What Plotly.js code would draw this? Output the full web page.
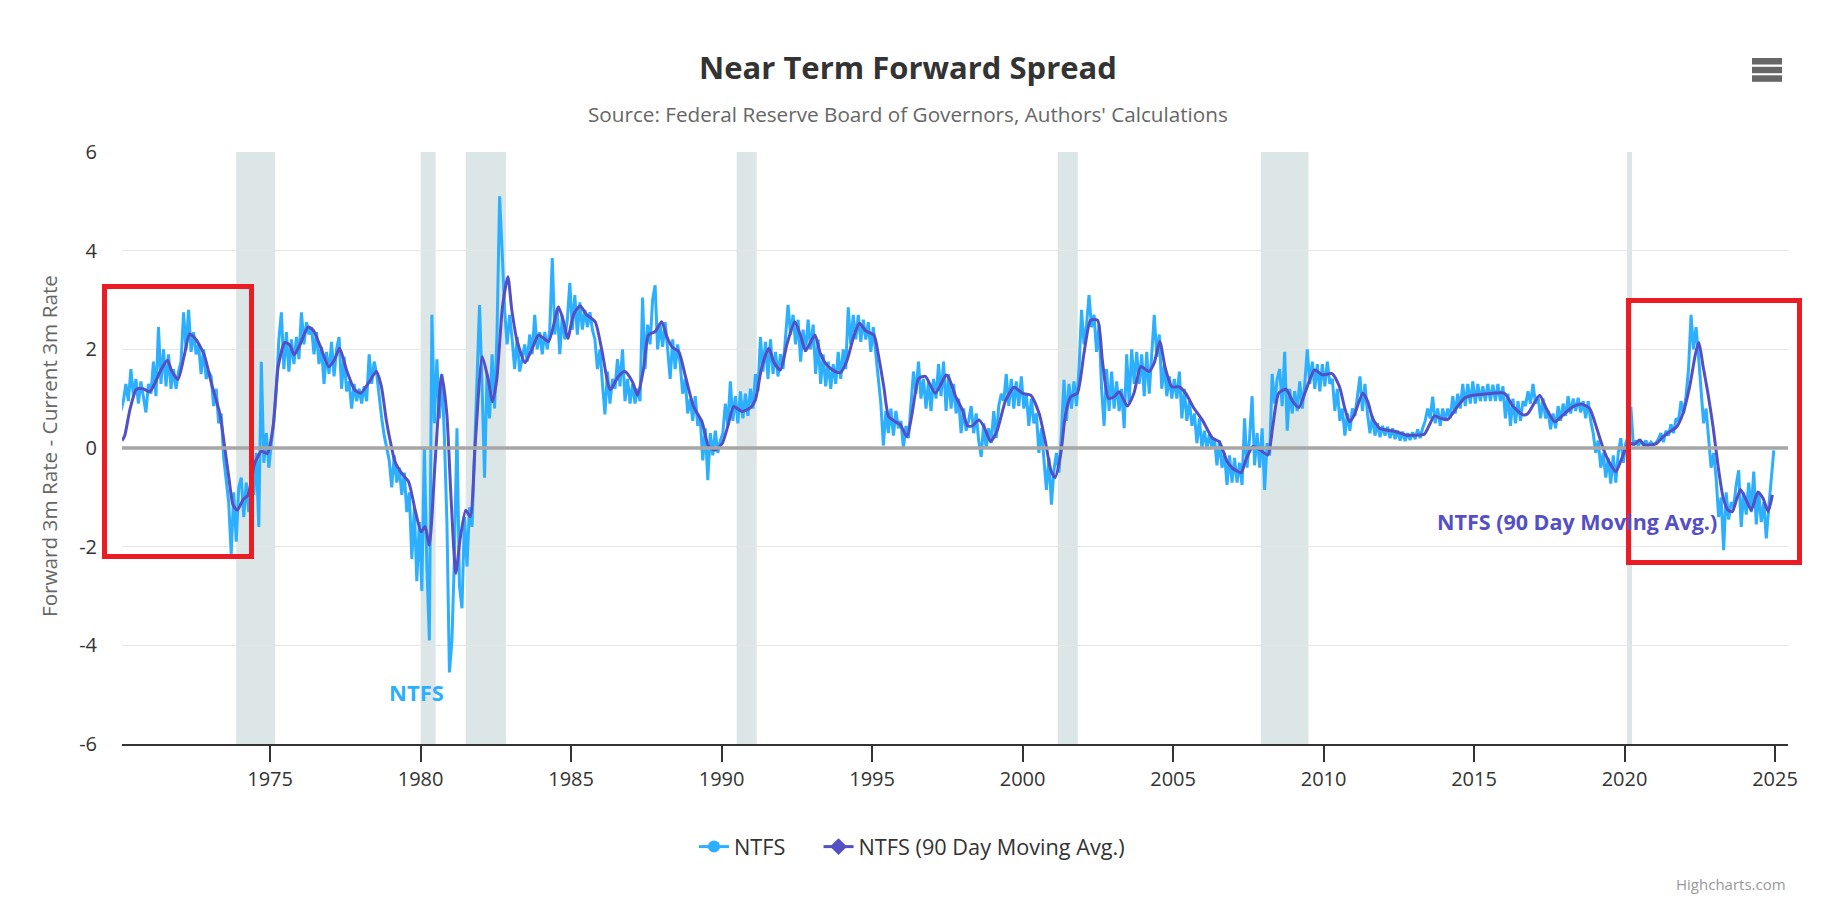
<!DOCTYPE html>
<html>
<head>
<meta charset="utf-8">
<script src="https://cdn.plot.ly/plotly-3.0.1.min.js"></script>
<style>
  html, body { margin: 0; padding: 0; background: #ffffff; }
  #chart { width: 1836px; height: 906px; }
</style>
</head>
<body>
<div id="chart"></div>
<script>
// Near Term Forward Spread (forward 3m rate minus current 3m rate), monthly readings, one row per year
const ntfsStartYear = 1970;

const ntfs1970s = [
   0.75,  0.95,  1.30,  0.95,  1.60,  1.05,  1.40,  0.90,  1.35,  1.00,  0.72,  1.30,
   1.10,  1.75,  1.05,  2.45,  1.30,  2.00,  1.25,  1.90,  1.20,  1.60,  1.20,  1.55,
   1.75,  2.75,  2.00,  2.80,  1.95,  2.35,  1.90,  2.10,  1.50,  2.00,  1.40,  1.55,
   1.45,  0.85,  1.20,  0.50,  0.70, -0.20, -0.60, -1.10, -2.15, -0.90, -1.90, -0.80,
  -0.60, -1.40, -0.70, -1.30, -0.50, -0.95, -0.10, -1.60,  1.75, -0.30,  0.30, -0.40,
   0.10,  0.55,  1.20,  2.20,  2.75,  1.60,  2.35,  1.55,  2.20,  1.70,  2.25,  1.80,
   2.75,  2.10,  2.55,  2.30,  2.45,  1.90,  2.35,  1.70,  2.05,  1.30,  1.95,  1.50,
   2.15,  1.45,  2.00,  2.25,  1.20,  1.85,  1.15,  1.35,  0.80,  1.30,  0.95,  1.20,
   0.90,  1.25,  0.95,  1.90,  1.30,  1.75,  1.50,  1.00,  0.60,  0.25,  0.00, -0.25,
  -0.80, -0.15, -0.70, -0.40, -0.95, -0.50, -1.30, -0.90, -2.25, -1.20, -2.70, -1.50
];

const ntfs1980s = [
  -2.90,  0.00, -2.40, -3.90,  2.70,  0.50,  1.80,  0.60,  1.50,  0.20, -1.50, -4.55,
  -3.90, -2.20,  0.40, -2.80, -3.25, -1.40, -2.40, -1.20, -1.60,  0.00,  1.20,  2.90,
   1.30, -0.60,  1.50,  0.60,  1.90,  0.80,  2.40,  5.10,  4.00,  2.80,  2.10,  2.70,
   2.20,  1.60,  2.25,  1.55,  1.80,  2.10,  1.75,  2.30,  1.90,  2.70,  2.00,  2.35,
   1.90,  2.35,  2.00,  2.40,  3.85,  2.30,  2.80,  1.90,  2.70,  2.20,  2.60,  3.35,
   2.40,  3.10,  2.30,  2.95,  2.40,  2.80,  2.45,  2.75,  2.40,  2.20,  1.60,  2.00,
   1.30,  0.68,  1.55,  0.90,  1.40,  1.20,  1.80,  1.25,  2.00,  0.95,  1.40,  0.90,
   1.30,  0.90,  1.20,  0.95,  3.05,  1.60,  2.50,  2.10,  3.00,  3.30,  2.00,  2.50,
   2.05,  2.55,  2.00,  1.40,  2.20,  1.60,  2.10,  1.70,  1.10,  1.40,  0.70,  1.00,
   0.55,  1.05,  0.45,  0.60, -0.25,  0.40, -0.65,  0.30, -0.15,  0.35, -0.10,  0.15
];

const ntfs1990s = [
   0.30,  0.90,  0.45,  1.35,  0.55,  1.05,  0.50,  1.15,  0.60,  1.10,  0.65,  1.20,
   0.80,  1.50,  1.15,  2.25,  1.55,  2.15,  1.40,  2.20,  1.50,  1.95,  1.45,  1.90,
   1.60,  2.20,  2.90,  2.30,  2.70,  2.10,  2.60,  1.75,  2.40,  1.95,  2.60,  2.00,
   2.50,  1.50,  2.20,  1.30,  1.90,  1.25,  1.75,  1.20,  1.70,  1.30,  1.95,  1.40,
   2.00,  1.60,  2.85,  2.10,  2.70,  2.20,  2.70,  2.15,  2.60,  2.20,  2.55,  1.95,
   2.45,  1.90,  1.40,  0.90,  0.05,  0.75,  0.30,  0.80,  0.25,  0.75,  0.40,  0.55,
   0.00,  0.45,  0.20,  0.80,  1.55,  1.10,  1.75,  1.00,  1.40,  0.80,  1.35,  0.75,
   1.40,  1.00,  1.70,  1.05,  1.75,  0.75,  1.50,  0.80,  1.30,  0.70,  1.00,  0.30,
   0.80,  0.35,  0.55,  0.85,  0.30,  0.70,  0.15, -0.18,  0.50,  0.00,  0.40,  0.10,
   0.75,  0.20,  0.85,  1.10,  0.95,  1.50,  0.85,  1.40,  0.80,  1.35,  0.85,  1.45
];

const ntfs2000s = [
   0.80,  1.10,  0.45,  1.00,  0.50,  0.70, -0.10,  0.40, -0.30, -0.85, -0.20, -1.15,
  -0.45, -0.10, -0.50,  0.30,  1.38,  0.55,  1.30,  0.80,  1.35,  0.85,  1.60,  2.80,
   2.10,  2.50,  3.10,  2.45,  2.70,  1.95,  2.50,  1.20,  0.45,  1.60,  0.75,  1.55,
   0.80,  1.35,  0.75,  1.20,  0.40,  1.90,  0.90,  2.00,  1.30,  1.95,  1.30,  1.90,
   1.05,  1.95,  1.10,  1.90,  2.70,  1.85,  2.30,  1.20,  1.70,  1.05,  1.45,  1.00,
   1.40,  1.00,  1.55,  0.60,  1.20,  0.55,  0.95,  0.45,  0.70,  0.10,  0.60,  0.00,
   0.35, -0.02,  0.30,  0.00,  0.20, -0.35,  0.15, -0.40, -0.10, -0.75, -0.15, -0.70,
  -0.20, -0.70, -0.30, -0.75,  0.60, -0.40,  0.20,  1.05, -0.35,  0.30, -0.40,  0.40,
  -0.85,  0.10, -0.15,  1.50,  0.90,  1.40,  1.60,  0.85,  1.95,  0.35,  1.20,  0.70,
   1.15,  0.75,  1.35,  0.80,  1.30,  2.00,  1.30,  1.75,  1.20,  1.70,  1.15,  1.70
];

const ntfs2010s = [
   1.25,  1.75,  1.30,  1.40,  0.75,  1.20,  0.55,  0.80,  0.25,  0.70,  0.35,  0.80,
   0.65,  1.05,  1.45,  0.75,  1.30,  0.70,  0.30,  0.65,  0.25,  0.50,  0.22,  0.45,
   0.25,  0.43,  0.20,  0.40,  0.18,  0.35,  0.15,  0.33,  0.14,  0.30,  0.16,  0.32,
   0.18,  0.38,  0.20,  0.40,  0.55,  0.80,  0.60,  1.04,  0.50,  0.80,  0.45,  0.80,
   0.55,  0.80,  0.60,  1.05,  0.70,  1.10,  0.80,  1.30,  0.85,  1.30,  0.90,  1.35,
   0.90,  1.30,  0.95,  1.25,  0.95,  1.30,  0.95,  1.28,  0.95,  1.30,  0.95,  1.25,
   0.60,  1.10,  0.45,  1.00,  0.50,  0.95,  0.55,  0.95,  0.85,  1.15,  0.90,  1.30,
   0.90,  1.05,  0.60,  1.00,  0.60,  0.75,  0.38,  0.70,  0.40,  0.85,  0.55,  0.90,
   0.65,  1.05,  0.70,  1.00,  0.75,  1.02,  0.72,  0.95,  0.60,  0.95,  0.55,  0.30,
  -0.10,  0.15, -0.40, -0.10, -0.60, -0.20, -0.72, -0.15, -0.70, -0.10,  0.20, -0.30
];

const ntfs2020s = [
   0.10,  0.25,  0.84,  0.05,  0.15,  0.05,  0.14,  0.06,  0.15,  0.05,  0.12,  0.06,
   0.10,  0.18,  0.30,  0.12,  0.35,  0.25,  0.48,  0.30,  0.60,  0.55,  0.95,  0.70,
   1.05,  1.60,  2.70,  2.00,  2.45,  1.85,  1.10,  0.50,  0.80,  0.20, -0.40, -0.10,
  -0.60, -1.40, -1.00, -2.07, -0.90, -1.45, -1.10, -1.20, -0.75, -0.45, -1.60, -0.90,
  -1.35, -0.70, -1.30, -0.48, -1.55, -0.90, -1.50, -1.10, -1.83, -1.20, -0.70, -0.05
];

// 90 day moving average: time (decimal year) and value
const maYear = [
  1970.08, 1970.17, 1970.34, 1970.56, 1970.78, 1971.00, 1971.17, 1971.37, 1971.59, 1971.74, 1971.94,
  1972.14, 1972.33, 1972.55, 1972.81, 1973.05, 1973.33, 1973.49, 1973.64, 1973.77, 1973.91,
  1974.10, 1974.27, 1974.49, 1974.71, 1974.91, 1975.10, 1975.27, 1975.49, 1975.65, 1975.80, 1975.99,
  1976.26, 1976.43, 1976.65, 1976.95, 1977.13, 1977.31, 1977.54, 1977.81, 1978.01, 1978.26, 1978.53,
  1978.70, 1978.86, 1979.03, 1979.15, 1979.37, 1979.60, 1979.82, 1980.02, 1980.15, 1980.29, 1980.48,
  1980.70, 1980.87, 1981.01, 1981.17, 1981.31, 1981.50, 1981.65, 1981.81, 1982.05, 1982.25, 1982.39,
  1982.53, 1982.72, 1982.90, 1983.03, 1983.20, 1983.47, 1983.69, 1983.92, 1984.25, 1984.58, 1984.75,
  1984.89, 1985.08, 1985.30, 1985.52, 1985.80, 1986.02, 1986.30, 1986.57, 1986.79, 1987.04, 1987.21,
  1987.40, 1987.57, 1987.79, 1988.01, 1988.18, 1988.35, 1988.58, 1988.80, 1989.07, 1989.35, 1989.57,
  1989.79, 1990.02, 1990.22, 1990.40, 1990.68, 1990.96, 1991.12, 1991.34, 1991.57, 1991.73, 1991.95,
  1992.18, 1992.43, 1992.62, 1992.79, 1993.10, 1993.28, 1993.50, 1993.78, 1993.95, 1994.17, 1994.39,
  1994.58, 1994.78, 1995.06, 1995.22, 1995.39, 1995.55, 1995.78, 1995.94, 1996.16, 1996.33, 1996.55,
  1996.77, 1997.10, 1997.46, 1997.56, 1997.78, 1998.00, 1998.17, 1998.33, 1998.55, 1998.72, 1998.94,
  1999.16, 1999.44, 1999.72, 1999.99, 2000.27, 2000.55, 2000.77, 2000.94, 2001.08, 2001.27, 2001.43,
  2001.60, 2001.82, 2002.04, 2002.26, 2002.49, 2002.65, 2002.85, 2003.04, 2003.21, 2003.48, 2003.70,
  2003.93, 2004.20, 2004.37, 2004.56, 2004.73, 2004.96, 2005.20, 2005.42, 2005.70, 2005.97, 2006.31,
  2006.53, 2006.80, 2006.98, 2007.26, 2007.42, 2007.65, 2007.87, 2008.15, 2008.31, 2008.51, 2008.75,
  2008.98, 2009.18, 2009.42, 2009.70, 2009.97, 2010.28, 2010.53, 2010.69, 2010.86, 2011.02, 2011.30,
  2011.47, 2011.63, 2011.86, 2012.13, 2012.41, 2012.74, 2013.02, 2013.35, 2013.52, 2013.68, 2013.90,
  2014.13, 2014.40, 2014.68, 2014.96, 2015.29, 2015.62, 2016.01, 2016.30, 2016.63, 2016.79, 2017.18,
  2017.40, 2017.68, 2017.96, 2018.29, 2018.57, 2018.84, 2019.06, 2019.29, 2019.51, 2019.71, 2019.89,
  2020.12, 2020.34, 2020.50, 2020.67, 2021.06, 2021.28, 2021.50, 2021.72, 2021.94, 2022.16, 2022.36,
  2022.47, 2022.61, 2022.77, 2022.94, 2023.11, 2023.27, 2023.44, 2023.58, 2023.72, 2023.85, 2024.03,
  2024.21, 2024.43, 2024.60, 2024.77, 2024.91
];
const maValue = [
   0.15,  0.25,  0.77,  1.19,  1.20,  1.14,  1.31,  1.58,  1.78,  1.55,  1.39,
   1.85,  2.31,  2.19,  1.89,  1.31,  0.70,  0.03, -0.65, -1.16, -1.26,
  -1.05, -0.95, -0.31, -0.07, -0.11,  0.43,  1.65,  2.14,  2.09,  1.89,  2.09,
   2.45,  2.39,  2.09,  1.65,  1.78,  2.02,  1.58,  1.18,  1.11,  1.31,  1.55,
   1.24,  0.57,  0.03, -0.28, -0.51, -0.68, -1.26, -1.70, -1.59, -1.97, -0.31,
   1.48,  0.70, -0.99, -2.54, -1.86, -1.26, -1.39,  0.03,  1.85,  1.38,  0.94,
   1.38,  2.86,  3.47,  2.80,  2.19,  1.73,  1.99,  2.29,  2.16,  2.86,  2.56,
   2.22,  2.70,  2.88,  2.70,  2.56,  1.99,  1.18,  1.45,  1.55,  1.34,  1.07,
   1.58,  2.29,  2.36,  2.56,  2.26,  2.05,  1.95,  1.45,  0.84,  0.53,  0.03,
  -0.04,  0.09,  0.47,  0.84,  0.74,  0.82,  0.97,  1.65,  2.02,  1.75,  1.58,
   2.12,  2.56,  2.29,  1.97,  2.29,  1.92,  1.68,  1.55,  1.53,  1.78,  2.26,
   2.53,  2.38,  2.29,  1.85,  1.24,  0.64,  0.53,  0.47,  0.23,  0.70,  1.41,
   1.45,  1.11,  1.48,  1.41,  1.04,  0.77,  0.45,  0.45,  0.57,  0.43,  0.13,
   0.36,  0.97,  1.23,  1.11,  1.07,  0.70,  0.09, -0.45, -0.60, -0.11,  0.70,
   1.04,  1.11,  1.92,  2.59,  2.59,  1.78,  1.01,  1.04,  1.14,  0.85,  1.11,
   1.65,  1.55,  1.72,  2.16,  1.65,  1.24,  1.24,  1.11,  0.80,  0.57,  0.20,
   0.13, -0.28, -0.41, -0.50, -0.24,  0.03, -0.03, -0.14,  0.43,  1.11,  1.19,
   0.94,  0.82,  1.18,  1.58,  1.48,  1.51,  1.24,  0.84,  0.53,  0.67,  1.11,
   0.94,  0.60,  0.40,  0.36,  0.33,  0.26,  0.26,  0.28,  0.47,  0.65,  0.60,
   0.58,  0.80,  1.01,  1.07,  1.09,  1.11,  1.11,  0.84,  0.67,  0.70,  1.07,
   0.80,  0.53,  0.67,  0.84,  0.89,  0.80,  0.43, -0.01, -0.31, -0.48, -0.24,
   0.09,  0.08,  0.16,  0.06,  0.09,  0.23,  0.33,  0.42,  0.70,  1.24,  1.92,
   2.14,  1.65,  1.11,  0.43, -0.38, -0.99, -1.26, -1.29, -1.05, -0.84, -1.04,
  -1.26, -0.89, -1.02, -1.29, -0.95
];

// NBER recessions, [start, end] as decimal years
const recessionStart = [1973.875, 1980.0, 1981.5, 1990.5, 2001.167, 2007.917, 2020.083];
const recessionEnd   = [1975.167, 1980.5, 1982.833, 1991.167, 2001.833, 2009.5, 2020.25];

// Axis ticks
const xTickYears = [1975, 1980, 1985, 1990, 1995, 2000, 2005, 2010, 2015, 2020, 2025];
const yTickValues = [-6, -4, -2, 0, 2, 4, 6];
const yTickLabels = ['-6', '-4', '-2', '0', '2', '4', '6'];

// ---- build the monthly series ----
const ntfsValues = [].concat(ntfs1970s, ntfs1980s, ntfs1990s, ntfs2000s, ntfs2010s, ntfs2020s);
const ntfsTime = ntfsValues.map((_, i) => ntfsStartYear + (i + 0.5) / 12);

const BLUE = '#2caffe';
const PURPLE = '#544fc5';
const FONT = 'Open Sans, Noto Sans, sans-serif';
const NBSP = '\u00a0';

// page geometry
const W = 1836, H = 906;
const M = { l: 122, r: 48, t: 152, b: 162 };
const PW = W - M.l - M.r, PH = H - M.t - M.b;
const px = (x) => (x - M.l) / PW;
const py = (y) => (H - M.b - y) / PH;

const traces = [
  {
    x: ntfsTime, y: ntfsValues, type: 'scatter', mode: 'lines', name: 'NTFS',
    line: { color: BLUE, width: 3 }, showlegend: false, hoverinfo: 'x+y'
  },
  {
    x: maYear, y: maValue, type: 'scatter', mode: 'lines', name: 'NTFS (90 Day Moving Avg.)',
    line: { color: PURPLE, width: 3, shape: 'spline', smoothing: 0.6 }, showlegend: false, hoverinfo: 'x+y'
  },
  // legend entries (line + marker symbol); trailing no-break spaces widen the gap between items
  {
    x: [null], y: [null], type: 'scatter', mode: 'lines+markers', name: 'NTFS' + NBSP.repeat(5),
    line: { color: BLUE, width: 3 }, marker: { symbol: 'circle', size: 12, color: BLUE }
  },
  {
    x: [null], y: [null], type: 'scatter', mode: 'lines+markers', name: 'NTFS (90 Day Moving Avg.)',
    line: { color: PURPLE, width: 3 }, marker: { symbol: 'diamond', size: 13, color: PURPLE }
  }
];

const shapes = [];
recessionStart.forEach((s, i) => {
  shapes.push({
    type: 'rect', xref: 'x', yref: 'paper', x0: s, x1: recessionEnd[i], y0: 0, y1: 1,
    fillcolor: '#dde6e6', line: { width: 0 }, layer: 'between'
  });
});
// zero reference line
shapes.push({
  type: 'line', xref: 'paper', yref: 'y', x0: 0, x1: 1, y0: 0, y1: 0,
  line: { color: '#a6a6a6', width: 3.5 }, layer: 'above'
});
// highlight boxes
[[104.5, 286.5, 251.5, 556.5], [1628.5, 300.5, 1799.5, 562.5]].forEach(b => {
  shapes.push({
    type: 'rect', xref: 'paper', yref: 'paper',
    x0: px(b[0]), x1: px(b[2]), y0: py(b[3]), y1: py(b[1]),
    line: { color: '#ec1c24', width: 5 }, fillcolor: 'rgba(0,0,0,0)', layer: 'above'
  });
});
// menu button bars
[[58, 64.5], [66.8, 73.2], [75.3, 81.8]].forEach(r => {
  shapes.push({
    type: 'rect', xref: 'paper', yref: 'paper',
    x0: px(1752), x1: px(1782), y0: py(r[1]), y1: py(r[0]),
    fillcolor: '#666666', line: { width: 0 }, layer: 'above'
  });
});

const annotations = [
  {
    text: 'Source: Federal Reserve Board of Governors, Authors\' Calculations',
    xref: 'paper', yref: 'paper', x: px(908), y: py(114), xanchor: 'center', yanchor: 'middle',
    showarrow: false, font: { family: FONT, size: 20.7, color: '#666666' }
  },
  {
    text: 'Forward 3m Rate - Current 3m Rate', textangle: -90,
    xref: 'paper', yref: 'paper', x: px(49), y: py(446), xanchor: 'center', yanchor: 'middle',
    showarrow: false, font: { family: FONT, size: 20.7, color: '#666666' }
  },
  {
    text: 'NTFS', xref: 'x', yref: 'y', x: 1979.88, y: -4.95, xanchor: 'center', yanchor: 'middle',
    showarrow: false, font: { family: FONT, size: 22, color: BLUE, weight: 700 }
  },
  {
    text: 'NTFS (90 Day Moving Avg.)', xref: 'x', yref: 'y', x: 2018.42, y: -1.48,
    xanchor: 'center', yanchor: 'middle',
    showarrow: false, font: { family: FONT, size: 21.5, color: PURPLE, weight: 700 }
  },
  {
    text: 'Highcharts.com', xref: 'paper', yref: 'paper', x: 1, y: py(884),
    xanchor: 'right', yanchor: 'middle', showarrow: false,
    font: { family: FONT, size: 15, color: '#999999' }
  }
];

const layout = {
  width: W, height: H,
  margin: M,
  paper_bgcolor: '#ffffff', plot_bgcolor: '#ffffff',
  font: { family: FONT, color: '#333333' },
  title: {
    text: 'Near Term Forward Spread',
    font: { family: FONT, size: 31, color: '#333333', weight: 700 },
    xref: 'container', yref: 'container', x: 908 / W, y: 1 - 68 / H,
    xanchor: 'center', yanchor: 'middle'
  },
  xaxis: {
    range: [1970.08, 2025.43],
    tickvals: xTickYears, ticktext: xTickYears.map(String),
    ticks: 'outside', ticklen: 16, tickwidth: 2, tickcolor: '#333333',
    showline: true, linecolor: '#333333', linewidth: 2,
    showgrid: false, zeroline: false,
    tickfont: { family: FONT, size: 20, color: '#333333' }
  },
  yaxis: {
    range: [-6, 6],
    tickvals: yTickValues, ticktext: yTickLabels,
    ticks: '', ticklabelstandoff: 24,
    showgrid: true, gridcolor: '#e6e6e6', gridwidth: 1.5,
    zeroline: false, showline: false,
    tickfont: { family: FONT, size: 20, color: '#333333' }
  },
  legend: {
    orientation: 'h', x: px(694), xanchor: 'left', y: py(847), yanchor: 'middle',
    font: { family: FONT, size: 21.7, color: '#333333' },
    bgcolor: 'rgba(0,0,0,0)'
  },
  shapes: shapes,
  annotations: annotations,
  hovermode: false
};

Plotly.newPlot('chart', traces, layout, { displayModeBar: false, staticPlot: true });
</script>
</body>
</html>
